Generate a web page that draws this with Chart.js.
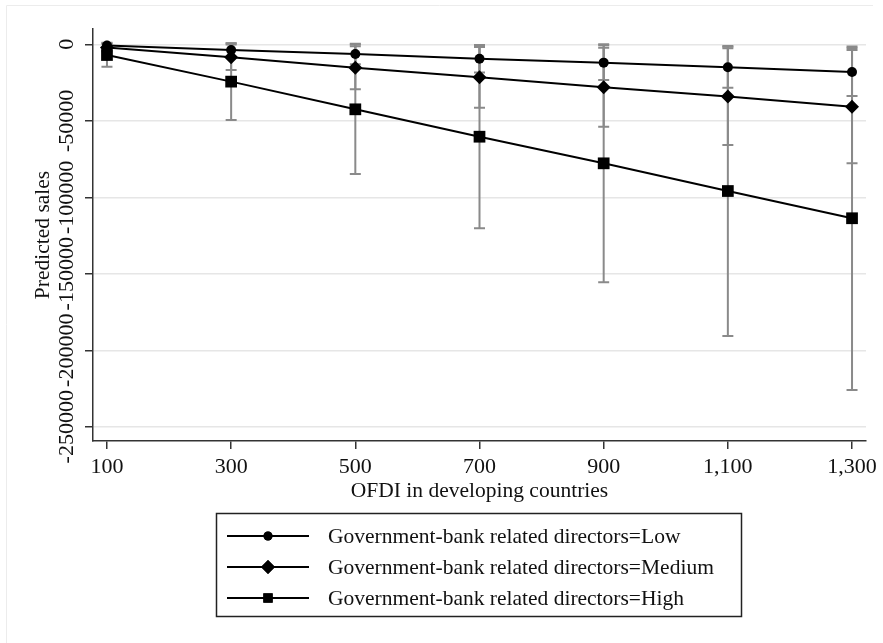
<!DOCTYPE html>
<html>
<head>
<meta charset="utf-8">
<script src="https://cdn.jsdelivr.net/npm/chart.js@4/dist/chart.umd.min.js"></script>
<style>
  html, body { margin: 0; padding: 0; background: #ffffff; }
  #wrap { width: 883px; height: 643px; position: relative; }
</style>
</head>
<body>
<div id="wrap"><canvas id="chart" width="883" height="643"></canvas></div>
<script>
// OFDI levels on the horizontal axis
const ofdiLevels = [100, 300, 500, 700, 900, 1100, 1300];

// Predicted sales with 95% confidence limits, by director group
const lowMean   = [-800, -3700, -6300, -9400, -12000, -15000, -18100];
const lowLower  = [-2600, -8100, -13000, -18400, -23300, -28400, -33800];
const lowUpper  = [1000, 700, 400, -400, -700, -1600, -2400];

const medMean   = [-2100, -8500, -15300, -21600, -28100, -34200, -40800];
const medLower  = [-4600, -16800, -29400, -41400, -53900, -65800, -77800];
const medUpper  = [300, -200, -1200, -1800, -2300, -2600, -3800];

const highMean  = [-7000, -24400, -42500, -60400, -77800, -95900, -113700];
const highLower = [-14600, -49500, -84800, -120300, -155600, -190700, -226000];
const highUpper = [600, 700, -200, -500, 0, -1100, -1400];

// Series labels and axis ticks
const seriesLabels = [
  'Government-bank related directors=Low',
  'Government-bank related directors=Medium',
  'Government-bank related directors=High'
];
const xTicks = [100, 300, 500, 700, 900, 1100, 1300];
const yTicks = [0, -50000, -100000, -150000, -200000, -250000];

const xTitle = 'OFDI in developing countries';
const yTitle = 'Predicted sales';

const FONT = '"Liberation Serif", "Times New Roman", serif';
const TICK_SIZE = 22;
const TEXT_SIZE = 21.5;
const INK = '#111111';
const AXIS = '#333333';

const toPoints = (vals) => vals.map((v, i) => ({ x: ofdiLevels[i], y: v }));

const bands = [
  { lower: lowLower, upper: lowUpper },
  { lower: medLower, upper: medUpper },
  { lower: highLower, upper: highUpper }
];

const markerStyles = [
  { pointStyle: 'circle', pointRadius: 5, legendRadius: 4.5 },
  { pointStyle: 'rectRot', pointRadius: 7, legendRadius: 7 },
  { pointStyle: 'rect', pointRadius: 8.3, legendRadius: 6.6 }
];

// Confidence-interval caps drawn beneath the lines
const errorBars = {
  id: 'errorBars',
  beforeDatasetsDraw(chart) {
    const { ctx, scales: { x, y } } = chart;
    ctx.save();
    ctx.strokeStyle = '#8a8a8a';
    ctx.lineWidth = 2;
    const cap = 5.5;
    bands.forEach((b) => {
      ofdiLevels.forEach((v, i) => {
        const px = x.getPixelForValue(v);
        const yl = y.getPixelForValue(b.lower[i]);
        const yu = y.getPixelForValue(b.upper[i]);
        ctx.beginPath();
        ctx.moveTo(px, yu); ctx.lineTo(px, yl);
        ctx.moveTo(px - cap, yu); ctx.lineTo(px + cap, yu);
        ctx.moveTo(px - cap, yl); ctx.lineTo(px + cap, yl);
        ctx.stroke();
      });
    });
    ctx.restore();
  }
};

// Rotated y tick labels and the boxed legend
const decorations = {
  id: 'decorations',
  afterDraw(chart) {
    const { ctx, scales: { y } } = chart;
    ctx.save();
    // faint frame edges
    ctx.strokeStyle = '#ececec';
    ctx.lineWidth = 1;
    ctx.beginPath();
    ctx.moveTo(6.5, 643); ctx.lineTo(6.5, 5.5); ctx.lineTo(873, 5.5);
    ctx.stroke();

    ctx.fillStyle = INK;
    ctx.font = TICK_SIZE + 'px ' + FONT;
    ctx.textAlign = 'center';
    ctx.textBaseline = 'middle';
    yTicks.forEach((t) => {
      const py = y.getPixelForValue(t);
      ctx.save();
      ctx.translate(67, py);
      ctx.rotate(-Math.PI / 2);
      ctx.fillText(String(t), 0, 0);
      ctx.restore();
    });

    // legend box
    const box = { x: 216.5, y: 513.5, w: 525, h: 103 };
    ctx.strokeStyle = '#222222';
    ctx.lineWidth = 1.5;
    ctx.strokeRect(box.x, box.y, box.w, box.h);
    const rows = [536, 567, 598];
    chart.data.datasets.forEach((ds, i) => {
      const ry = rows[i];
      ctx.strokeStyle = '#000000';
      ctx.lineWidth = 2;
      ctx.beginPath();
      ctx.moveTo(227, ry); ctx.lineTo(309, ry);
      ctx.stroke();
      ctx.fillStyle = '#000000';
      Chart.helpers.drawPoint(ctx, {
        pointStyle: markerStyles[i].pointStyle,
        radius: markerStyles[i].legendRadius,
        borderWidth: 0,
        rotation: 0
      }, 268, ry);
      ctx.fill();
      ctx.fillStyle = INK;
      ctx.textAlign = 'left';
      ctx.textBaseline = 'middle';
      ctx.font = TEXT_SIZE + 'px ' + FONT;
      ctx.fillText(ds.label, 328, ry + 1);
    });
    ctx.restore();
  }
};

const means = [lowMean, medMean, highMean];

new Chart(document.getElementById('chart'), {
  type: 'line',
  data: {
    datasets: means.map((m, i) => ({
      label: seriesLabels[i],
      data: toPoints(m),
      borderColor: '#000000',
      backgroundColor: '#000000',
      borderWidth: 2,
      pointStyle: markerStyles[i].pointStyle,
      pointRadius: markerStyles[i].pointRadius,
      pointHoverRadius: markerStyles[i].pointRadius,
      pointBackgroundColor: '#000000',
      pointBorderColor: '#000000',
      pointBorderWidth: 0,
      tension: 0,
      fill: false
    }))
  },
  options: {
    responsive: false,
    animation: false,
    events: [],
    layout: { padding: { top: 29, right: 17, bottom: 139, left: 0 } },
    plugins: {
      legend: { display: false },
      tooltip: { enabled: false }
    },
    scales: {
      x: {
        type: 'linear',
        min: 77.5,
        max: 1322.5,
        afterBuildTicks(scale) { scale.ticks = xTicks.map((v) => ({ value: v })); },
        afterFit(scale) { scale.height = 63; },
        ticks: {
          color: INK,
          font: { family: FONT, size: TICK_SIZE },
          padding: 5,
          maxRotation: 0,
          callback: (v) => Number(v).toLocaleString('en-US')
        },
        grid: {
          drawOnChartArea: false,
          drawTicks: true,
          tickLength: 8,
          tickColor: AXIS,
          lineWidth: 1.5
        },
        border: { display: true, color: AXIS, width: 1.5 },
        title: {
          display: true,
          text: xTitle,
          color: INK,
          font: { family: FONT, size: TEXT_SIZE },
          padding: { top: 0, bottom: 0 }
        }
      },
      y: {
        type: 'linear',
        min: -259300,
        max: 10000,
        afterBuildTicks(scale) { scale.ticks = yTicks.map((v) => ({ value: v })); },
        afterFit(scale) { scale.width = 93; },
        ticks: { display: false },
        grid: {
          color: '#e6e6e6',
          lineWidth: 1.5,
          drawTicks: true,
          tickLength: 8,
          tickColor: AXIS
        },
        border: { display: true, color: AXIS, width: 1.5 },
        title: {
          display: true,
          text: yTitle,
          color: INK,
          font: { family: FONT, size: TEXT_SIZE },
          padding: { top: 30, bottom: 0 }
        }
      }
    }
  },
  plugins: [errorBars, decorations]
});
</script>
</body>
</html>
